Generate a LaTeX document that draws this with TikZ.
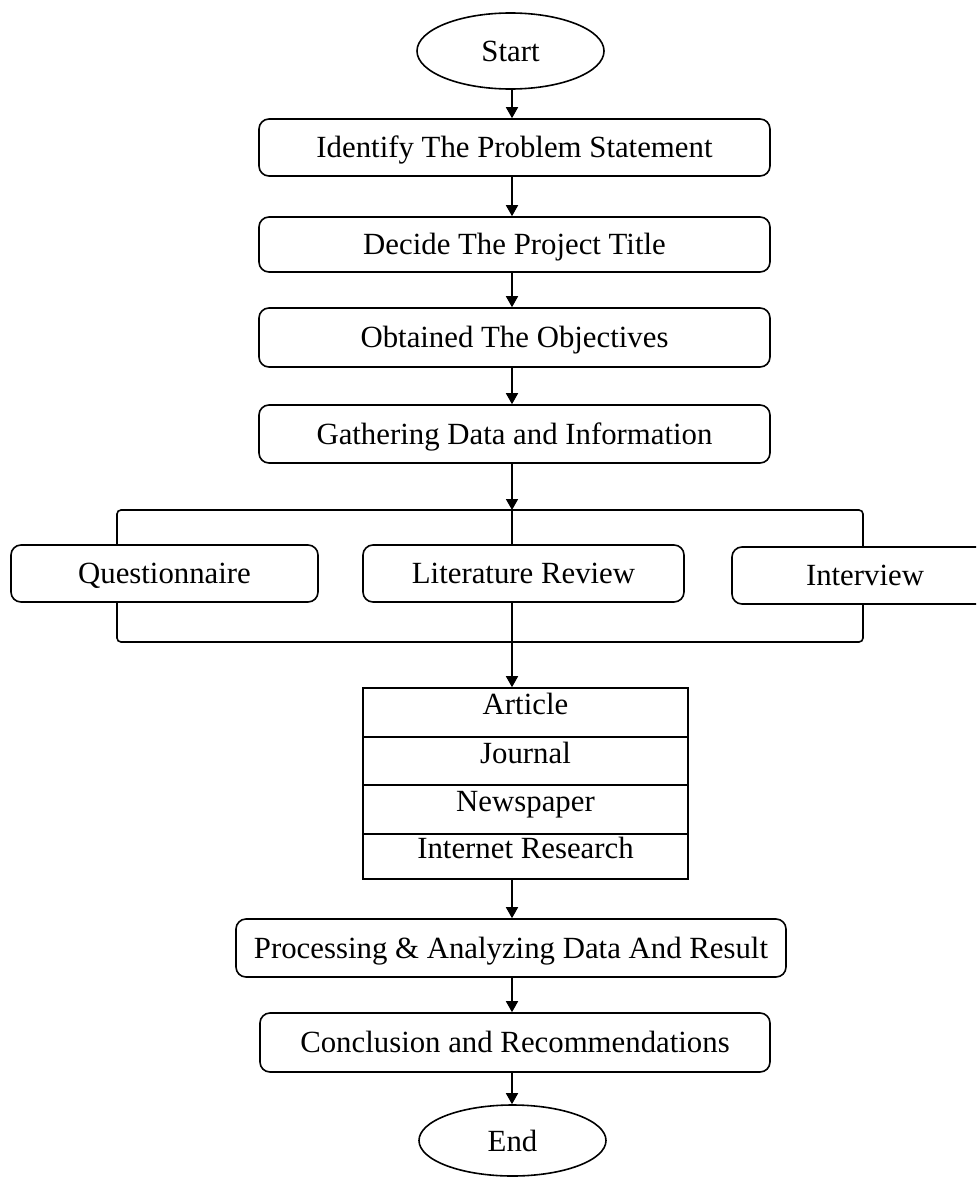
\documentclass[tikz,border=0pt]{standalone}
\usepackage{fontspec}
\setmainfont{Liberation Serif}
\usetikzlibrary{arrows.meta, shapes.geometric}

\begin{document}
\begin{tikzpicture}[x=0.5pt, y=-0.5pt,
    every node/.style={font=\fontsize{15.4pt}{18pt}\selectfont, line width=0.8pt},
    terminal/.style={ellipse, draw, inner sep=0pt, minimum width=93.5pt, minimum height=38pt},
    process/.style={rectangle, draw, rounded corners=5pt, inner sep=0pt, minimum width=255.5pt,
        minimum height=28.5pt, text height=10.2pt, text depth=0pt},
    source/.style={rectangle, draw, inner sep=0pt, minimum width=162.5pt, text height=10.2pt, text depth=8pt},
    link/.style={line width=0.8pt},
    arrow/.style={link, -{Triangle[length=5.5pt, width=6pt]}}]

    % Fix the page size
    \clip (0,0) rectangle (976,1178);

    % Line that the arrows follow
    \coordinate (axis) at (512,0);

    % Draw the first steps
    \node[terminal] (start) at (510.5,51) {Start};
    \node[process] (identify) at (514.5,147.5) {Identify The Problem Statement};
    \node[process, minimum height=27.5pt] (title) at (514.5,244.5) {Decide The Project Title};
    \node[process, minimum height=29.5pt] (objectives) at (514.5,337.5) {Obtained The Objectives};
    \node[process, minimum height=29pt] (gathering) at (514.5,434) {Gathering Data and Information};

    % Draw the three ways of gathering
    \node[process, minimum width=153.5pt] (quest) at (164.5,573.5) {Questionnaire};
    \node[process, minimum width=160.5pt] (litrev) at (523.5,573.5) {Literature Review};
    \node[process, minimum width=133pt] (interview) at (865,575.5) {Interview};

    % Draw the sources table
    \node[source, minimum height=24.5pt] (article) at (525.5,712.5) {Article};
    \node[source, minimum height=24pt] (journal) at (525.5,761) {Journal};
    \node[source, minimum height=24.5pt] (newspaper) at (525.5,809.5) {Newspaper};
    \node[source, minimum height=22.5pt] (internet) at (525.5,856.5) {Internet Research};

    % Draw the last steps
    \node[process, minimum width=275pt, minimum height=29pt] (processing) at (511,948) {Processing \& Analyzing Data And Result};
    \node[process, minimum width=255pt, minimum height=29.5pt] (conclusion) at (515,1042.5) {Conclusion and Recommendations};
    \node[terminal, minimum height=35.5pt] (finish) at (512.5,1140.5) {End};

    % Corners of the bracket
    \coordinate (brTL) at (117,510);
    \coordinate (brTR) at (863,510);
    \coordinate (brBL) at (117,642);
    \coordinate (brBR) at (863,642);

    % Draw the arrows
    \draw[arrow] (start.south -| axis) -- (identify.north -| axis);
    \draw[arrow] (identify.south -| axis) -- (title.north -| axis);
    \draw[arrow] (title.south -| axis) -- (objectives.north -| axis);
    \draw[arrow] (objectives.south -| axis) -- (gathering.north -| axis);
    \draw[arrow] (gathering.south -| axis) -- (brTL -| axis);
    \draw[link] (brTL -| axis) -- (litrev.north -| axis);
    \draw[arrow] (litrev.south -| axis) -- (article.north -| axis);
    \draw[arrow] (internet.south -| axis) -- (processing.north -| axis);
    \draw[arrow] (processing.south -| axis) -- (conclusion.north -| axis);
    \draw[arrow] (conclusion.south -| axis) -- (finish.north -| axis);

    % Draw the bracket
    \draw[link, rounded corners=2pt] (brTL |- quest.north) -- (brTL) -- (brTR) -- (brTR |- interview.north);
    \draw[link, rounded corners=2pt] (brBL |- quest.south) -- (brBL) -- (brBR) -- (brBR |- interview.south);

\end{tikzpicture}
\end{document}
